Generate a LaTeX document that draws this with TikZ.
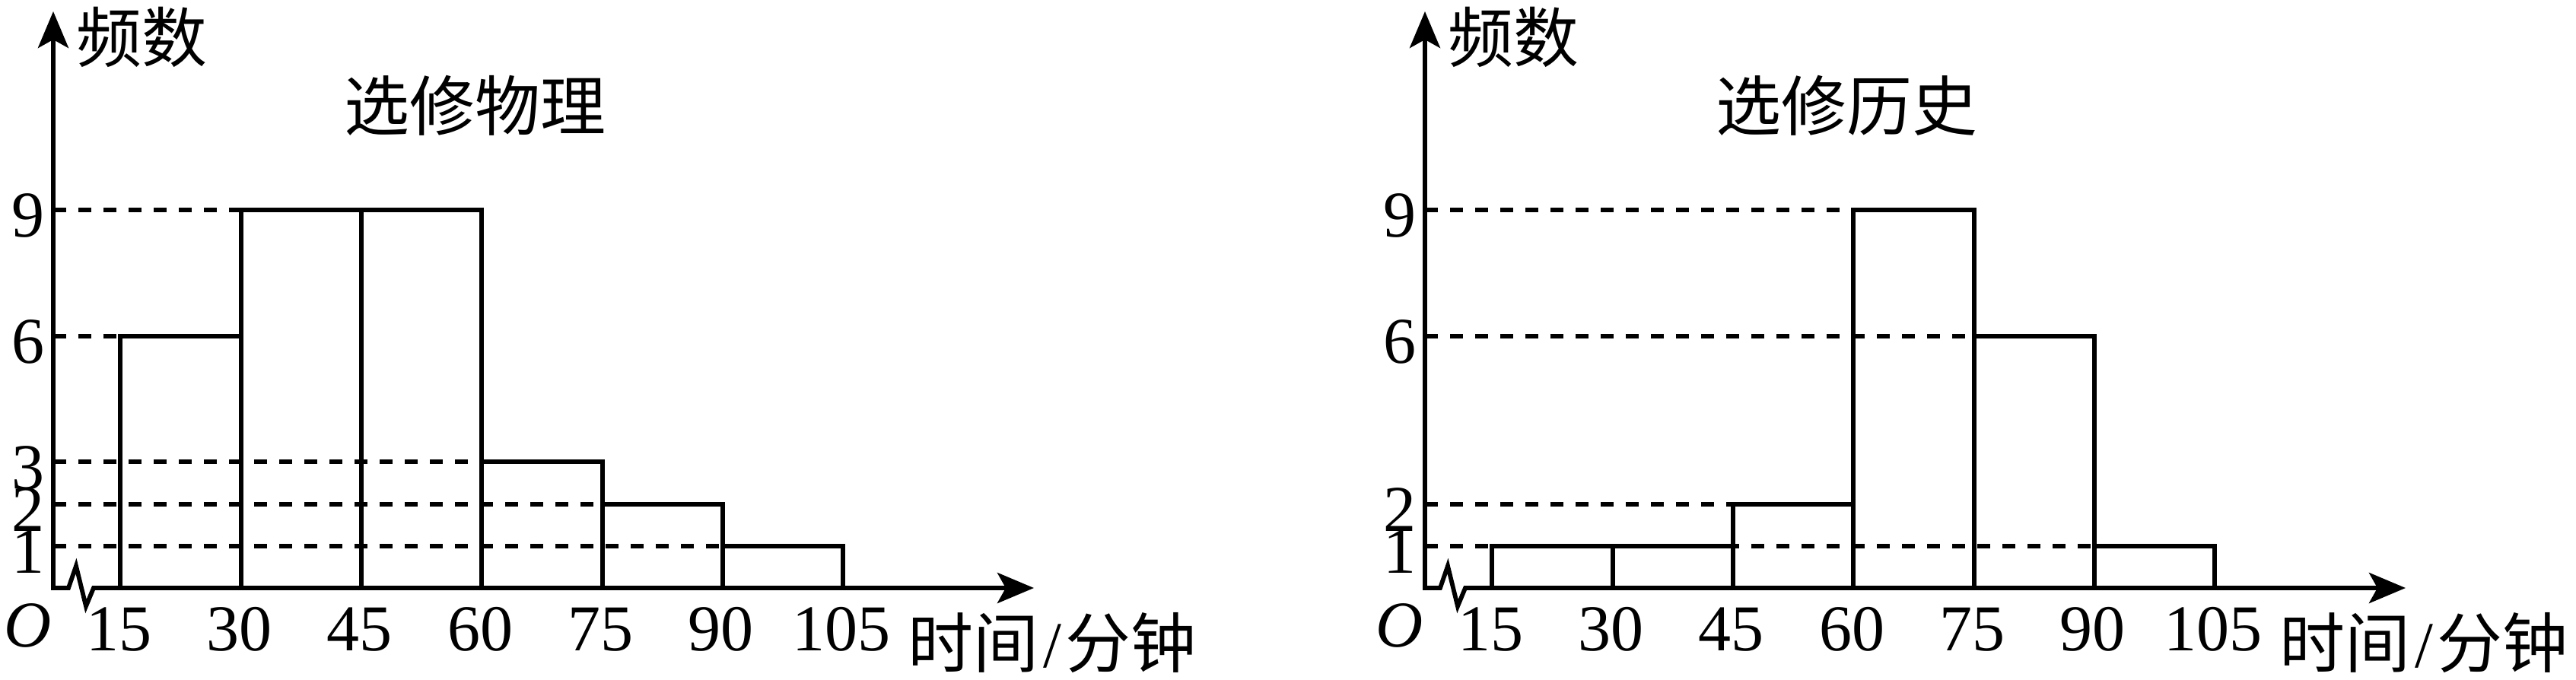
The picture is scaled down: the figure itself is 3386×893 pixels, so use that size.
\documentclass[tikz,border=0pt]{standalone}
\usepackage{fontspec}
\setmainfont{Liberation Serif}
\newfontfamily\cjk{Noto Sans CJK SC}
\usetikzlibrary{arrows.meta}
\newcommand\numfont{\fontsize{21.5}{26}\selectfont}
\tikzset{
  axisline/.style={line width=1.45pt, line cap=rect, line join=miter,
    -{Stealth[length=12pt,width=10pt,inset=2.75pt]}},
  barbox/.style={line width=1.5pt, line join=miter},
  guide/.style={line width=1.5pt, dash pattern=on 4.25pt off 4pt},
  numlab/.style={font=\numfont, inner sep=0pt},
  cnlab/.style={font=\numfont\cjk, inner sep=0pt}
}
\newcommand\histframe[2]{%
  \coordinate (#1-o) at (70,773);
  \coordinate (#1-ytip) at (70,15);
  \coordinate (#1-xtip) at (1359,773);
  \draw[axisline] (#1-o) -- (#1-ytip);
  \draw[axisline] (#1-o) -- (90,773) -- (100,744) -- (113,797) -- (123,773) -- (#1-xtip);
  \node[numlab, anchor=base, font=\numfont\itshape] (#1-O) at (37,850) {O};
  \foreach \v [count=\i] in {15,30,45,60,75,90,105}
    \node[numlab, anchor=base] (#1-x\v) at ({158.3*\i-2},855) {\v};
  \node[cnlab] (#1-freq) at (186,49) {频数};
  \node[cnlab] (#1-title) at (624,139) {#2};
  \node[cnlab] (#1-time) at (1383,845) {时间\kern1.5pt{\rmfamily/}\kern1.5pt分钟};
}
\begin{document}
\begin{tikzpicture}[x=0.25pt,y=-0.25pt]
\useasboundingbox (0,0) rectangle (3386,893);
% left chart
\begin{scope}
  \foreach \h/\xe in {9/317,6/158,3/633,2/791,1/950}
    \draw[guide] (70,{773-55.25*\h}) -- (\xe,{773-55.25*\h});
  \foreach \a/\h in {158.3/6,316.6/9,474.9/9,633.2/3,791.5/2,949.8/1}
    \draw[barbox] (\a,773) rectangle ({\a+158.3},{773-55.25*\h});
  \histframe{L}{选修物理}
  \foreach \h in {9,6,3,2,1}
    \node[numlab, anchor=base east] (L-y\h) at (59,{773-55.25*\h+36}) {\h};
\end{scope}
% right chart
\begin{scope}[xshift=450.75pt]
  \foreach \h/\xe in {9/633,6/791,2/475,1/950}
    \draw[guide] (70,{773-55.25*\h}) -- (\xe,{773-55.25*\h});
  \foreach \a/\h in {158.3/1,316.6/1,474.9/2,633.2/9,791.5/6,949.8/1}
    \draw[barbox] (\a,773) rectangle ({\a+158.3},{773-55.25*\h});
  \histframe{R}{选修历史}
  \foreach \h in {9,6,2,1}
    \node[numlab, anchor=base east] (R-y\h) at (59,{773-55.25*\h+36}) {\h};
\end{scope}
\end{tikzpicture}
\end{document}
